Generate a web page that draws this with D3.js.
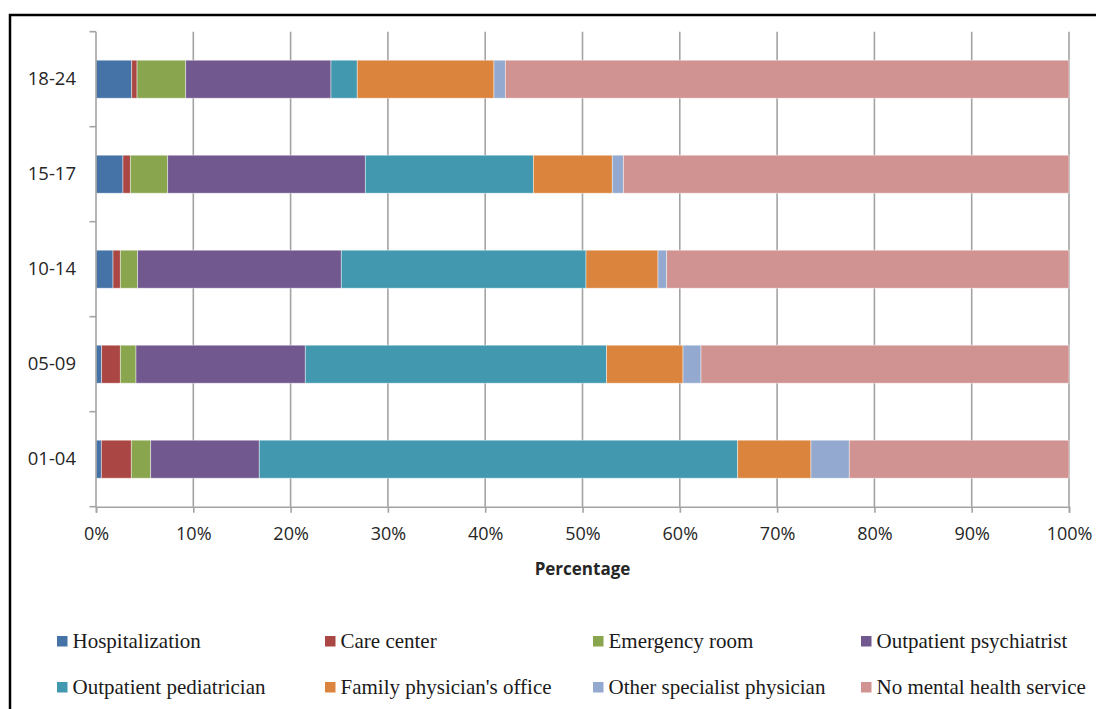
<!DOCTYPE html>
<html>
<head>
<meta charset="utf-8">
<script src="https://cdn.jsdelivr.net/npm/d3@7"></script>
<style>
  html, body { margin: 0; padding: 0; background: #fff; }
  svg { display: block; }
</style>
</head>
<body>
<svg id="chart" width="1096" height="709"></svg>
<script>
// ---- Data (percent of each age group) ----
const categories = ["18-24", "15-17", "10-14", "05-09", "01-04"];
const seriesNames = ["Hospitalization", "Care center", "Emergency room", "Outpatient psychiatrist",
  "Outpatient pediatrician", "Family physician's office", "Other specialist physician", "No mental health service"];
const hospitalization        = [3.67, 2.77, 1.75, 0.58, 0.55];
const careCenter             = [0.55, 0.76, 0.75, 1.92, 3.08];
const emergencyRoom          = [5.00, 3.84, 1.78, 1.61, 1.99];
const outpatientPsychiatrist = [14.93, 20.31, 20.93, 17.40, 11.16];
const outpatientPediatrician = [2.70, 17.27, 25.15, 30.97, 49.17];
const familyPhysician        = [14.05, 8.11, 7.40, 7.85, 7.53];
const otherSpecialist        = [1.17, 1.14, 0.89, 1.85, 3.94];
const noService              = [57.93, 45.80, 41.35, 37.82, 22.58];
const xTicks = [0, 10, 20, 30, 40, 50, 60, 70, 80, 90, 100];
const colors = ["#4572A7", "#AA4643", "#89A54E", "#71588F", "#4198AF", "#DB843D", "#93A9CF", "#D19392"];

const seriesValues = [hospitalization, careCenter, emergencyRoom, outpatientPsychiatrist,
  outpatientPediatrician, familyPhysician, otherSpecialist, noService];
const rows = categories.map((c, i) => {
  const r = { category: c };
  seriesNames.forEach((s, j) => r[s] = seriesValues[j][i]);
  return r;
});

const svg = d3.select("#chart");

// Frame
svg.append("rect").attr("x", 10).attr("y", 15).attr("width", 1110).attr("height", 720)
  .attr("fill", "none").attr("stroke", "#000").attr("stroke-width", 2.5);

const x = d3.scaleLinear().domain([0, 100]).range([96, 1069]);
const y = d3.scaleBand().domain(categories).range([31.7, 506.7]).paddingInner(0.6).paddingOuter(0.3);
const color = d3.scaleOrdinal().domain(seriesNames).range(colors);

const gridColor = "#a3a3a3";
const textColor = "#262626";

// Vertical gridlines
svg.append("g").selectAll("line").data(xTicks.slice(1)).join("line")
  .attr("x1", d => x(d)).attr("x2", d => x(d))
  .attr("y1", 31.7).attr("y2", 506.7)
  .attr("stroke", gridColor).attr("stroke-width", 1.6);

// Stacked bars
const stack = d3.stack().keys(seriesNames);
const stacked = stack(rows);
svg.append("g").selectAll("g").data(stacked).join("g")
  .attr("fill", d => color(d.key))
  .selectAll("rect").data(d => d).join("rect")
  .attr("x", d => x(d[0]))
  .attr("width", d => x(d[1]) - x(d[0]))
  .attr("y", d => y(d.data.category))
  .attr("height", y.bandwidth())
  .attr("stroke", "#ffffff").attr("stroke-opacity", 0.55).attr("stroke-width", 0.8);

// X axis
const xAxis = svg.append("g").attr("transform", "translate(0,506.7)")
  .call(d3.axisBottom(x).tickValues(xTicks).tickFormat(d => d + "%").tickSize(6).tickPadding(15));
xAxis.select(".domain").attr("stroke", gridColor).attr("stroke-width", 1.6);
xAxis.selectAll(".tick line").attr("stroke", gridColor).attr("stroke-width", 1.6);
xAxis.selectAll("text").attr("fill", textColor).style("font-family", "'Open Sans', sans-serif").style("font-size", "18px");

// Y axis
const yAxis = svg.append("g").attr("transform", "translate(96,0)")
  .call(d3.axisLeft(y).tickSize(0).tickPadding(20));
yAxis.select(".domain").attr("stroke", gridColor).attr("stroke-width", 1.6).attr("d", "M0,31.7V506.7");
yAxis.selectAll("text").attr("fill", textColor).style("font-family", "'Open Sans', sans-serif").style("font-size", "18.5px");
// boundary ticks
const bounds = d3.range(categories.length + 1).map(i => 31.7 + i * y.step());
svg.append("g").selectAll("line").data(bounds).join("line")
  .attr("x1", 89.5).attr("x2", 96).attr("y1", d => d).attr("y2", d => d)
  .attr("stroke", gridColor).attr("stroke-width", 1.6);

// Axis title
svg.append("text").attr("x", x(50)).attr("y", 575).attr("text-anchor", "middle")
  .attr("fill", textColor).style("font-family", "'Open Sans', sans-serif")
  .style("font-size", "17px").style("font-weight", "bold").text("Percentage");

// Legend
const legendCols = [57, 325, 593, 861];
const legendRows = [648, 694];
const legend = svg.append("g").selectAll("g").data(seriesNames).join("g")
  .attr("transform", (d, i) => `translate(${legendCols[i % 4]},${legendRows[Math.floor(i / 4)]})`);
legend.append("rect").attr("x", 0).attr("y", -12).attr("width", 10.5).attr("height", 10.5)
  .attr("fill", d => color(d));
legend.append("text").attr("x", 15.5).attr("y", 0)
  .attr("fill", "#1a1a1a").style("font-family", "'Liberation Serif', 'Times New Roman', serif")
  .style("font-size", "21px").text(d => d);
</script>
</body>
</html>
